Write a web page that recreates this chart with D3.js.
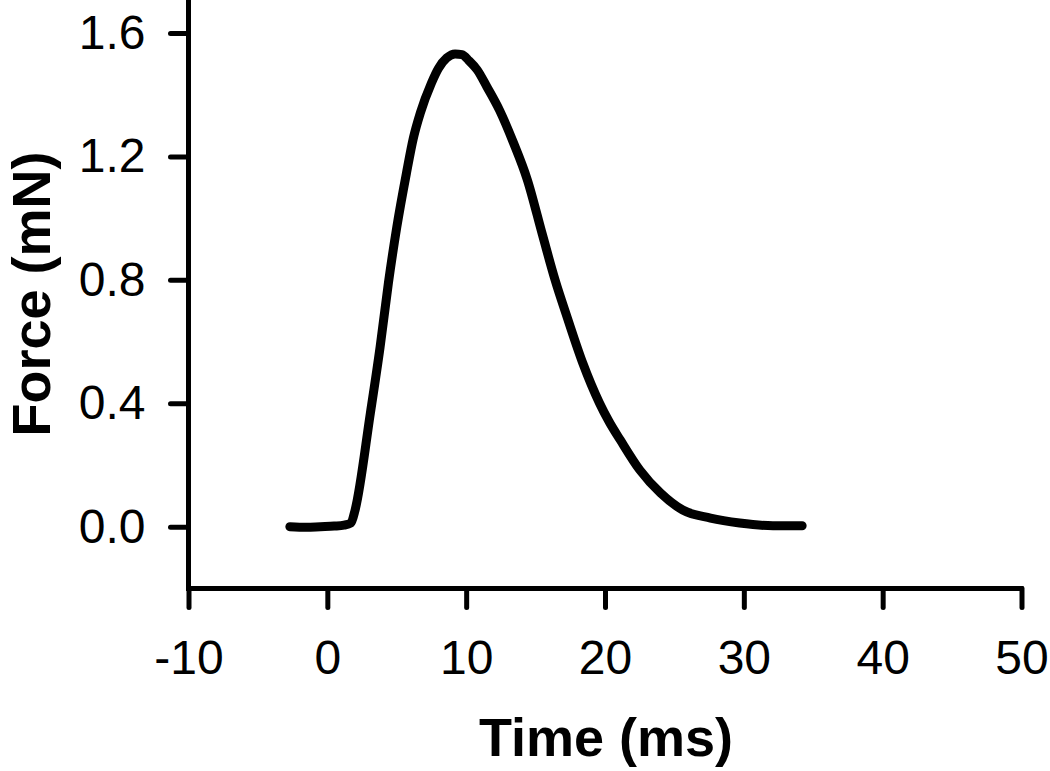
<!DOCTYPE html>
<html>
<head>
<meta charset="utf-8">
<script src="https://cdn.jsdelivr.net/npm/d3@7"></script>
<style>
  html, body { margin: 0; padding: 0; background: #fff; }
  svg { display: block; }
</style>
</head>
<body>
<svg id="chart" width="1050" height="771"></svg>
<script>
// Data
const timeMs = [-2.7, -1.5, -0.5, 0.5, 1.2, 1.7, 2.0, 3.1, 3.8, 4.4, 5.0, 5.7, 6.2, 6.7, 7.5, 8.0, 8.6, 9.2, 9.7, 10.2, 10.8, 11.5, 12.4, 13.4, 14.4, 15.5, 16.4, 17.3, 18.4, 19.6, 20.3, 21.1, 22.5, 24.0, 25.6, 27.6, 29.7, 32.1, 34.2];
const forceMN = [0.000, -0.002, 0.000, 0.002, 0.005, 0.012, 0.054, 0.368, 0.582, 0.790, 0.97, 1.146, 1.26, 1.341, 1.438, 1.485, 1.519, 1.532, 1.530, 1.510, 1.480, 1.425, 1.350, 1.245, 1.125, 0.945, 0.800, 0.675, 0.530, 0.401, 0.340, 0.281, 0.184, 0.109, 0.054, 0.028, 0.012, 0.003, 0.003];
const xTicks = [-10, 0, 10, 20, 30, 40, 50];
const yTicks = [0.0, 0.4, 0.8, 1.2, 1.6];
const xTitle = "Time (ms)";
const yTitle = "Force (mN)";

const svg = d3.select("#chart");
const font = "Liberation Sans, Arial, Helvetica, sans-serif";

const x = d3.scaleLinear().domain([-10, 50]).range([188.5, 1021.5]);
const y = d3.scaleLinear().domain([-0.2, 1.7]).range([588.4, 2.1]);

// Y axis
const yAxis = d3.axisLeft(y).tickValues(yTicks).tickFormat(d3.format(".1f"))
  .tickSize(18).tickSizeOuter(0).tickPadding(25);
const gy = svg.append("g").attr("transform", `translate(${x(-10)},0)`).call(yAxis);
gy.select(".domain").remove();
gy.append("line").attr("x1", 0).attr("x2", 0).attr("y1", 0).attr("y2", y(-0.2))
  .attr("stroke", "#000").attr("stroke-width", 5);
gy.selectAll(".tick line").attr("stroke", "#000").attr("stroke-width", 5).attr("stroke-linecap", "round");
gy.selectAll(".tick text").attr("font-family", font).attr("font-size", 48).attr("fill", "#000");

// X axis
const xAxis = d3.axisBottom(x).tickValues(xTicks).tickFormat(d3.format("d"))
  .tickSize(19).tickSizeOuter(0).tickPadding(33);
const gx = svg.append("g").attr("transform", `translate(0,${y(-0.2)})`).call(xAxis);
gx.select(".domain").remove();
gx.append("line").attr("x1", x(-10) - 2.5).attr("x2", x(50) + 2).attr("y1", 0).attr("y2", 0)
  .attr("stroke", "#000").attr("stroke-width", 5);
gx.selectAll(".tick line").attr("stroke", "#000").attr("stroke-width", 5).attr("stroke-linecap", "round");
gx.selectAll(".tick text").attr("font-family", font).attr("font-size", 48).attr("fill", "#000")
  .text(d => d < 0 ? "-" + Math.abs(d) : d);

// Data line
const pts = timeMs.map((t, i) => [t, forceMN[i]]);
const line = d3.line().x(d => x(d[0])).y(d => y(d[1])).curve(d3.curveMonotoneX);
svg.append("path").datum(pts).attr("d", line)
  .attr("fill", "none").attr("stroke", "#000").attr("stroke-width", 9)
  .attr("stroke-linejoin", "round").attr("stroke-linecap", "round");

// Titles
svg.append("text").attr("x", 606).attr("y", 756).attr("text-anchor", "middle")
  .attr("font-family", font).attr("font-weight", "bold").attr("font-size", 54)
  .attr("fill", "#000").text(xTitle);
svg.append("text").attr("transform", "translate(50,294) rotate(-90)").attr("text-anchor", "middle")
  .attr("font-family", font).attr("font-weight", "bold").attr("font-size", 54)
  .attr("fill", "#000").text(yTitle);
</script>
</body>
</html>
